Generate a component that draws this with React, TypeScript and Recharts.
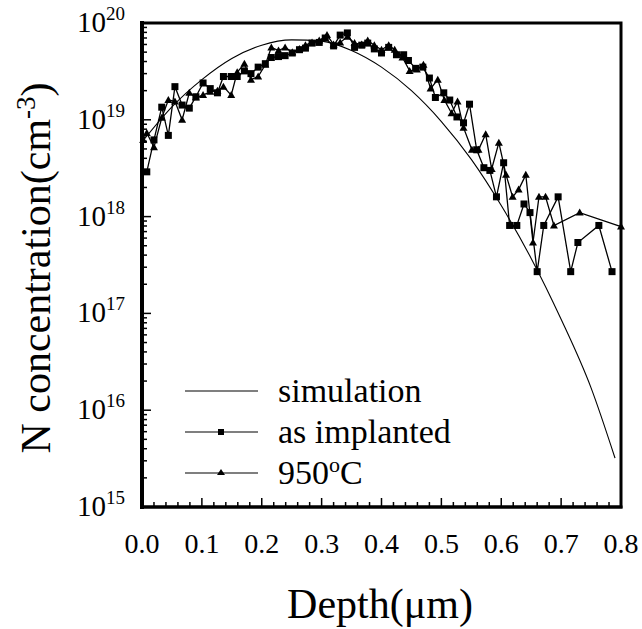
import React from 'react';
import { LineChart, Line, XAxis, YAxis, ReferenceArea } from 'recharts';

const FONT = '"Liberation Serif", "Times New Roman", Times, serif';

// depth axis (µm)
const depthMajor = [0, 0.1, 0.2, 0.3, 0.4, 0.5, 0.6, 0.7, 0.8];
const depthTicks = [
  0, 0.02, 0.04, 0.06, 0.08, 0.1, 0.12, 0.14, 0.16, 0.18, 0.2, 0.22, 0.24, 0.26, 0.28,
  0.3, 0.32, 0.34, 0.36, 0.38, 0.4, 0.42, 0.44, 0.46, 0.48, 0.5, 0.52, 0.54, 0.56, 0.58,
  0.6, 0.62, 0.64, 0.66, 0.68, 0.7, 0.72, 0.74, 0.76, 0.78, 0.8,
];

// concentration axis (cm-3), log scale
const decades = [1e15, 1e16, 1e17, 1e18, 1e19, 1e20];
const minorSteps = [2, 3, 4, 5, 6, 7, 8, 9];

// simulation profile
const simDepth = [0, 0.05, 0.1, 0.15, 0.2, 0.25, 0.3, 0.35, 0.4, 0.45, 0.5, 0.55, 0.6, 0.65, 0.7, 0.75, 0.79];
const simConc = [5.9e18, 1.36e19, 2.6e19, 4.3e19, 5.9e19, 6.7e19, 6.5e19, 5.2e19, 3.5e19, 2.0e19, 9.6e18, 3.9e18, 1.3e18, 3.7e17, 8.7e16, 1.7e16, 3.2e15];

// as implanted (squares)
const implDepth = [
  0.008, 0.02, 0.033, 0.044, 0.055, 0.067, 0.079, 0.09, 0.102, 0.114, 0.126, 0.136, 0.149, 0.159,
  0.171, 0.182, 0.194, 0.206, 0.216, 0.228, 0.239, 0.251, 0.263, 0.273, 0.284, 0.296, 0.306, 0.32,
  0.331, 0.343, 0.355, 0.367, 0.377, 0.388, 0.4, 0.412, 0.425, 0.437, 0.445, 0.457, 0.469, 0.48,
  0.49, 0.504, 0.514, 0.526, 0.537, 0.547, 0.559, 0.571, 0.581, 0.592, 0.604, 0.614, 0.626, 0.638,
  0.648, 0.66, 0.671, 0.695, 0.716, 0.728, 0.763, 0.785,
];
const implConc = [
  2.9e18, 6.2e18, 1.35e19, 6.9e18, 2.2e19, 1.42e19, 1.32e19, 1.73e19, 2.4e19, 2.1e19, 1.9e19, 2.8e19, 2.8e19, 2.8e19,
  3.2e19, 3.0e19, 3.5e19, 3.8e19, 4.4e19, 4.5e19, 4.6e19, 4.9e19, 5.3e19, 5.5e19, 6.2e19, 6.3e19, 7.0e19, 5.8e19,
  7.5e19, 7.9e19, 5.6e19, 5.9e19, 6.2e19, 5.4e19, 4.9e19, 5.6e19, 4.7e19, 4.7e19, 4.1e19, 3.4e19, 3.5e19, 2.7e19,
  1.7e19, 1.9e19, 1.6e19, 1.07e19, 9.3e18, 1.45e19, 4.9e18, 3.2e18, 3.0e18, 1.6e18, 3.6e18, 8.1e17, 8.1e17, 1.35e18,
  1.1e18, 2.7e17, 8.1e17, 1.6e18, 2.7e17, 5.4e17, 8.1e17, 2.7e17,
];

// 950oC anneal (triangles)
const annDepth = [
  0.002, 0.008, 0.02, 0.033, 0.044, 0.055, 0.067, 0.079, 0.09, 0.102, 0.114, 0.126, 0.136, 0.149,
  0.159, 0.171, 0.182, 0.194, 0.206, 0.216, 0.228, 0.239, 0.251, 0.263, 0.273, 0.284, 0.296, 0.309,
  0.32, 0.331, 0.343, 0.355, 0.367, 0.377, 0.388, 0.4, 0.412, 0.422, 0.435, 0.447, 0.459, 0.47,
  0.482, 0.494, 0.505, 0.517, 0.527, 0.537, 0.551, 0.562, 0.574, 0.584, 0.596, 0.608, 0.619, 0.629,
  0.641, 0.653, 0.663, 0.674, 0.688, 0.731, 0.8,
];
const annConc = [
  6.2e18, 7.3e18, 5.2e18, 1.05e19, 1.6e19, 1.55e19, 1.0e19, 1.9e19, 1.7e19, 1.8e19, 1.95e19, 2.0e19, 2.2e19, 1.8e19,
  3.1e19, 3.8e19, 2.6e19, 2.8e19, 3.7e19, 5.6e19, 5.2e19, 5.6e19, 5.0e19, 5.4e19, 5.9e19, 6.3e19, 6.6e19, 7.5e19,
  6.0e19, 6.3e19, 7.2e19, 6.2e19, 6.0e19, 6.6e19, 5.9e19, 5.3e19, 5.9e19, 5.3e19, 4.4e19, 3.2e19, 3.3e19, 3.7e19,
  2.1e19, 2.6e19, 1.6e19, 1.17e19, 1.55e19, 8.3e18, 4.9e18, 4.9e18, 7.1e18, 3.1e18, 5.8e18, 2.7e18, 1.6e18, 1.9e18,
  2.7e18, 5.4e17, 1.6e18, 1.6e18, 8.1e17, 1.1e18, 7.9e17,
];

const toRows = (xs: number[], ys: number[]) => xs.map((x, i) => ({ x, n: ys[i] }));
const simData = toRows(simDepth, simConc);
const implData = toRows(implDepth, implConc);
const annData = toRows(annDepth, annConc);

const concTicks = decades.flatMap((d, i) =>
  i < decades.length - 1 ? [d, ...minorSteps.map((m) => d * m)] : [d]
);

const isMajorDepth = (v: number) => depthMajor.some((m) => Math.abs(m - v) < 1e-6);

const DepthTick = (props: any) => {
  const { x, y, payload } = props;
  const major = isMajorDepth(payload.value);
  return (
    <g>
      <line x1={x} x2={x} y1={y} y2={y - (major ? 9 : 5)} stroke="#000" strokeWidth={1.5} />
      {major && (
        <text x={x} y={y + 46} textAnchor="middle" fontFamily={FONT} fontSize={28} fill="#000">
          {payload.value.toFixed(1)}
        </text>
      )}
    </g>
  );
};

const ConcTick = (props: any) => {
  const { x, y, payload } = props;
  const lg = Math.log10(payload.value);
  const exp = Math.round(lg);
  const major = Math.abs(lg - exp) < 1e-6;
  return (
    <g>
      <line x1={x} x2={x + (major ? 9 : 5)} y1={y} y2={y} stroke="#000" strokeWidth={1.5} />
      {major && (
        <text x={x - 17} y={y + 9} textAnchor="end" fontFamily={FONT} fontSize={29} fill="#000">
          10
          <tspan dy={-12} fontSize={19}>{exp}</tspan>
        </text>
      )}
    </g>
  );
};

const Square = (p: any) => (
  <rect key={`sq-${p.index}`} x={p.cx - 3.5} y={p.cy - 3.5} width={7} height={7} fill="#000" />
);

const Triangle = (p: any) => (
  <path
    key={`tr-${p.index}`}
    d={`M${p.cx},${p.cy - 4} L${p.cx + 4},${p.cy + 3} L${p.cx - 4},${p.cy + 3} Z`}
    fill="#000"
  />
);

const legendRows = [
  { name: 'simulation', marker: null },
  { name: 'as implanted', marker: 'square' },
  { name: '950', sup: 'o', tail: 'C', marker: 'triangle' },
];

const LegendBox = () => (
  <div
    style={{
      position: 'absolute',
      left: 182,
      top: 370,
      fontFamily: FONT,
      fontSize: 34,
      color: '#000',
    }}
  >
    {legendRows.map((r) => (
      <div key={r.name} style={{ display: 'flex', alignItems: 'center', height: 41 }}>
        <svg width={90} height={20} style={{ marginRight: 6 }}>
          <line x1={3} x2={76} y1={10} y2={10} stroke="#000" strokeWidth={1.2} />
          {r.marker === 'square' && <rect x={36} y={7} width={6} height={6} fill="#000" />}
          {r.marker === 'triangle' && <path d="M39,6 L43,12 L35,12 Z" fill="#000" />}
        </svg>
        <span style={{ whiteSpace: 'nowrap' }}>
          {r.name}
          {r.sup && <span style={{ fontSize: 22, verticalAlign: 'super', lineHeight: 0 }}>{r.sup}</span>}
          {r.tail}
        </span>
      </div>
    ))}
  </div>
);

export default function App() {
  return (
    <div
      style={{
        position: 'absolute',
        left: 0,
        top: 0,
        width: 642,
        height: 629,
        background: '#fff',
        fontFamily: FONT,
      }}
    >
      <LineChart width={642} height={629} margin={{ top: 23, right: 21, left: 22, bottom: 62 }}>
        <XAxis
          dataKey="x"
          type="number"
          domain={[0, 0.8]}
          ticks={depthTicks}
          interval={0}
          tickSize={0}
          tickMargin={0}
          height={60}
          axisLine={{ stroke: '#000', strokeWidth: 3, strokeLinecap: 'square' }}
          tickLine={false}
          tick={(p: any) => <DepthTick {...p} />}
        />
        <YAxis
          scale="log"
          type="number"
          domain={[1e15, 1e20]}
          allowDataOverflow
          ticks={concTicks}
          interval={0}
          tickSize={0}
          tickMargin={0}
          width={120}
          axisLine={{ stroke: '#000', strokeWidth: 4, strokeLinecap: 'square' }}
          tickLine={false}
          tick={(p: any) => <ConcTick {...p} />}
        />
        <ReferenceArea
          x1={0}
          x2={0.8}
          y1={1e15}
          y2={1e20}
          fill="none"
          fillOpacity={0}
          stroke="#000"
          strokeWidth={3}
          ifOverflow="visible"
        />
        <Line
          data={simData}
          dataKey="n"
          type="monotone"
          stroke="#000"
          strokeWidth={1.1}
          dot={false}
          isAnimationActive={false}
        />
        <Line
          data={implData}
          dataKey="n"
          type="linear"
          stroke="#000"
          strokeWidth={1.3}
          dot={Square}
          isAnimationActive={false}
        />
        <Line
          data={annData}
          dataKey="n"
          type="linear"
          stroke="#000"
          strokeWidth={1.3}
          dot={Triangle}
          isAnimationActive={false}
        />
      </LineChart>
      <LegendBox />
      <div
        style={{
          position: 'absolute',
          left: 380,
          top: 604,
          transform: 'translate(-50%, -50%)',
          fontSize: 42,
          whiteSpace: 'nowrap',
        }}
      >
        Depth(μm)
      </div>
      <div
        style={{
          position: 'absolute',
          left: 36,
          top: 268,
          transform: 'translate(-50%, -50%) rotate(-90deg)',
          fontSize: 42,
          whiteSpace: 'nowrap',
        }}
      >
        N concentration(cm
        <span style={{ fontSize: 27, verticalAlign: 'super', lineHeight: 0 }}>-3</span>)
      </div>
    </div>
  );
}
